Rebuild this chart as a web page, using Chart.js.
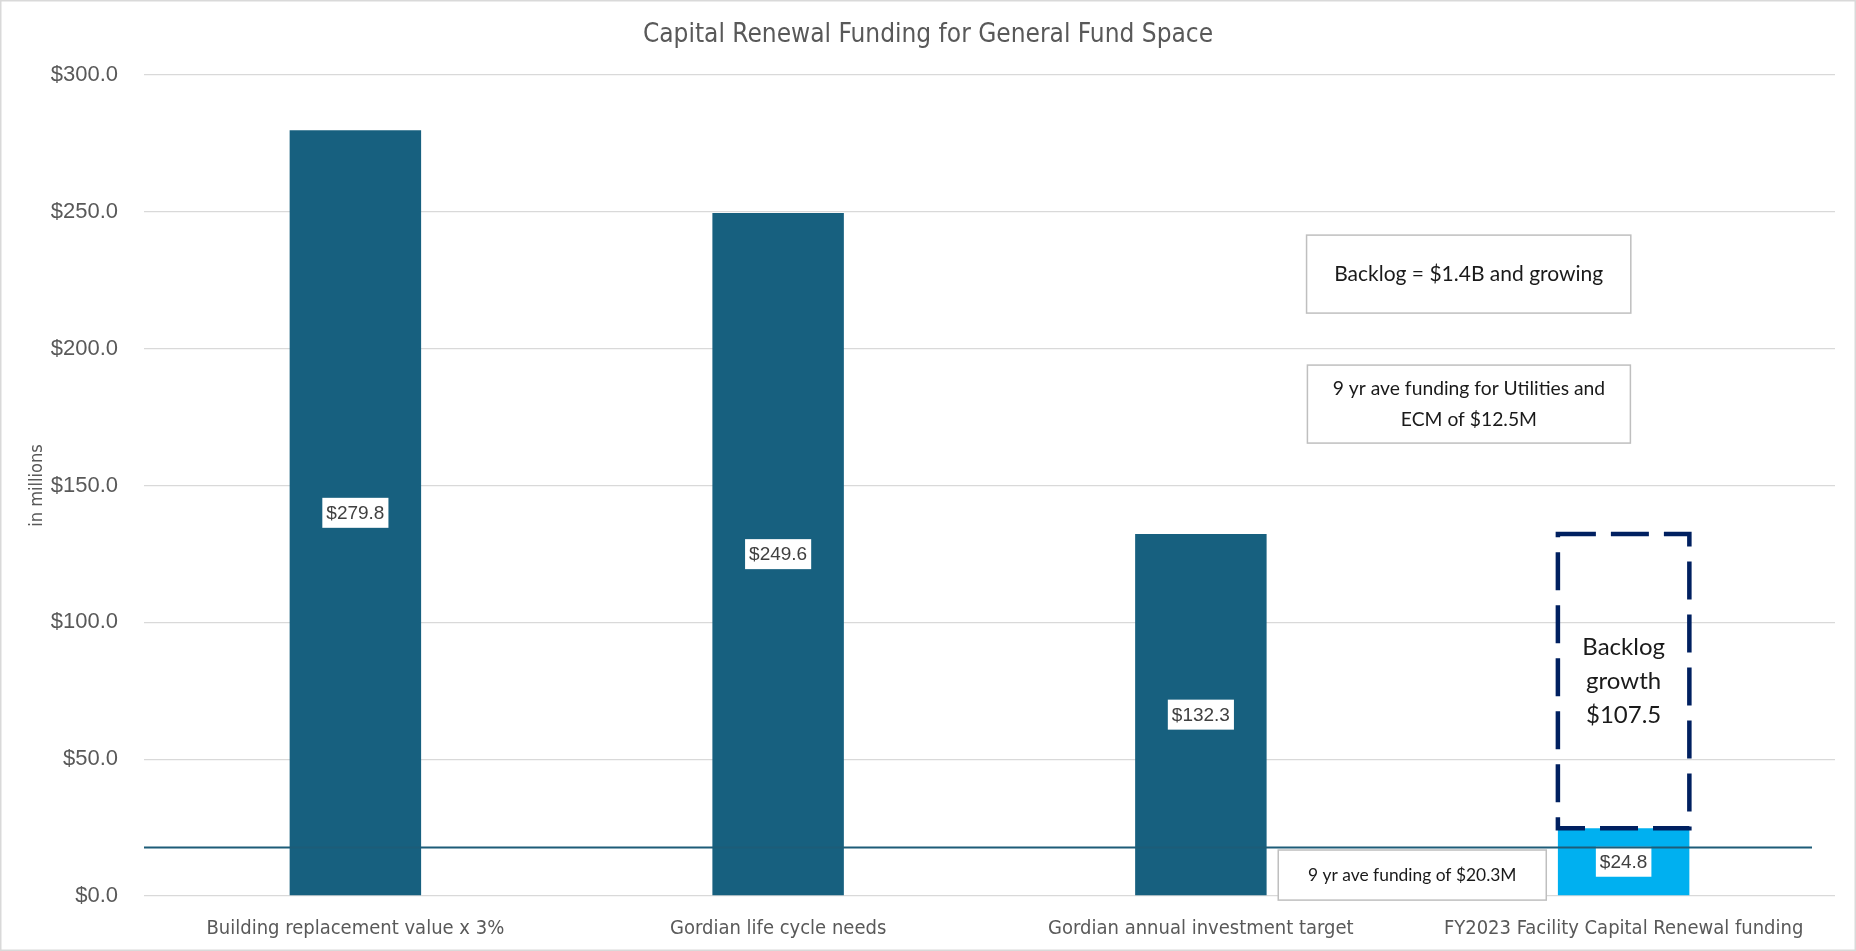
<!DOCTYPE html>
<html><head><meta charset="utf-8">
<script src="https://cdn.jsdelivr.net/npm/chart.js@4.4.1/dist/chart.umd.min.js"></script>
<style>html,body{margin:0;padding:0;background:#fff;overflow:hidden}#wrap{width:1856px;height:951px;position:relative}</style>
</head><body><div id="wrap"><canvas id="c"></canvas></div>
<script>
// ---- data ----
const categories = ['Building replacement value x 3%', 'Gordian life cycle needs', 'Gordian annual investment target', 'FY2023 Facility Capital Renewal funding'];
const fundingValues = [279.8, 249.6, 132.3, 24.8];
const backlogGrowth = [null, null, null, 107.5];
const averageFundingLevel = [17.7];
const yTickValues = [0, 50, 100, 150, 200, 250, 300];
const chartTitle = 'Capital Renewal Funding for General Fund Space';
const yAxisTitle = 'in millions';
const noteTexts = [['Backlog = $1.4B and growing'], ['9 yr ave funding for Utilities and', 'ECM of $12.5M'], ['9 yr ave funding of $20.3M']];
const backlogText = ['Backlog', 'growth', '$107.5'];

// ---- styles / placement ----
const darkBlue = '#17607F';
const lightBlue = '#00B0F0';
const barColors = [darkBlue, darkBlue, darkBlue, lightBlue];
const narrowFont = '"Liberation Sans Narrow", "DejaVu Sans Condensed", Roboto, sans-serif';
const boxFont = 'Lato, "Noto Sans", sans-serif';
const noteLayout = [
  {x0: 2.25, x1: 3.017, y0: 241.5, y1: 213.0, size: 21, lh: 30},
  {x0: 2.252, x1: 3.016, y0: 194.0, y1: 165.5, size: 19.3, lh: 31},
  {x0: 2.183, x1: 2.817, y0: 16.8, y1: -1.5, size: 17.4, lh: 24}
];

const decor = {
  id: 'decor',
  beforeDraw(chart) {
    const {ctx, width, height} = chart;
    ctx.save();
    ctx.fillStyle = '#fff'; ctx.fillRect(0, 0, width, height);
    ctx.strokeStyle = '#D9D9D9'; ctx.lineWidth = 1.5;
    ctx.strokeRect(0.75, 0.75, width - 1.5, height - 1.5);
    ctx.restore();
  },
  afterDatasetsDraw(chart) {
    const {ctx, chartArea, scales: {x, y}} = chart;
    ctx.save();
    // data labels
    ctx.font = '19px "Liberation Sans", Arial, sans-serif';
    ctx.textAlign = 'center'; ctx.textBaseline = 'middle';
    chart.getDatasetMeta(0).data.forEach((el, i) => {
      const p = el.getProps(['x', 'y', 'base'], true);
      const cy = (p.y + p.base) / 2;
      const txt = '$' + fundingValues[i].toFixed(1);
      const w = ctx.measureText(txt).width + 8;
      ctx.fillStyle = '#fff';
      ctx.fillRect(p.x - w / 2, cy - 15, w, 30);
      ctx.fillStyle = '#404040';
      ctx.fillText(txt, p.x, cy + 1);
    });
    // average funding line
    const ly = y.getPixelForValue(averageFundingLevel[0]);
    ctx.strokeStyle = '#1D5C78'; ctx.lineWidth = 2;
    ctx.beginPath(); ctx.moveTo(chartArea.left, ly); ctx.lineTo(chartArea.right - 23, ly); ctx.stroke();
    // dashed backlog box
    const el = chart.getDatasetMeta(1).data[3];
    const p = el.getProps(['x', 'y', 'base', 'width'], true);
    const l = p.x - p.width / 2, r = p.x + p.width / 2;
    ctx.strokeStyle = '#002060'; ctx.lineWidth = 4.5; ctx.setLineDash([38, 15]);
    ctx.beginPath(); ctx.moveTo(l, p.y); ctx.lineTo(r, p.y); ctx.lineTo(r, p.base); ctx.lineTo(l, p.base); ctx.closePath(); ctx.stroke();
    ctx.setLineDash([]);
    ctx.fillStyle = '#1a1a1a'; ctx.font = '24px ' + boxFont;
    const cy = (p.y + p.base) / 2;
    backlogText.forEach((t, i) => ctx.fillText(t, p.x, cy + (i - 1) * 34));
    // note boxes
    noteLayout.forEach((n, i) => {
      const bx0 = x.getPixelForValue(n.x0), bx1 = x.getPixelForValue(n.x1);
      const by0 = y.getPixelForValue(n.y0), by1 = y.getPixelForValue(n.y1);
      ctx.fillStyle = '#fff'; ctx.fillRect(bx0, by0, bx1 - bx0, by1 - by0);
      ctx.strokeStyle = '#BFBFBF'; ctx.lineWidth = 1.5; ctx.strokeRect(bx0, by0, bx1 - bx0, by1 - by0);
      ctx.fillStyle = '#1a1a1a'; ctx.font = n.size + 'px ' + boxFont;
      const lines = noteTexts[i];
      const mid = (by0 + by1) / 2;
      lines.forEach((t, k) => ctx.fillText(t, (bx0 + bx1) / 2, mid + (k - (lines.length - 1) / 2) * n.lh));
    });
    ctx.restore();
  }
};

new Chart(document.getElementById('c'), {
  type: 'bar',
  data: {
    labels: categories,
    datasets: [
      {data: fundingValues, backgroundColor: barColors, borderWidth: 0, barPercentage: 0.311, categoryPercentage: 1},
      {data: backlogGrowth, backgroundColor: 'rgba(0,0,0,0)', borderWidth: 0, barPercentage: 0.311, categoryPercentage: 1}
    ]
  },
  options: {
    responsive: true, maintainAspectRatio: false, animation: false,
    layout: {padding: {left: 21, right: 21, top: 0, bottom: 0}},
    plugins: {
      legend: {display: false}, tooltip: {enabled: false},
      title: {display: true, text: chartTitle, color: '#595959', font: {family: narrowFont, size: 26, weight: 'normal'}, padding: {top: 19.8, bottom: 24}}
    },
    scales: {
      x: {
        stacked: true,
        grid: {display: false}, border: {display: false},
        ticks: {color: '#595959', font: {family: narrowFont, size: 20}, padding: 13, maxRotation: 0},
        afterFit(s) { s.height = 55; }
      },
      y: {
        stacked: true, min: 0, max: 300,
        afterBuildTicks(s) { s.ticks = yTickValues.map(v => ({value: v})); },
        grid: {color: '#D9D9D9', lineWidth: 1.3, drawTicks: false}, border: {display: false},
        ticks: {color: '#595959', font: {family: '"Liberation Sans", Arial, sans-serif', size: 22}, padding: 26, callback: v => '$' + Number(v).toFixed(1)},
        title: {display: true, text: yAxisTitle, color: '#595959', font: {family: narrowFont, size: 18}, padding: {top: 6, bottom: 0}},
        afterFit(s) { s.width = 123; }
      }
    }
  },
  plugins: [decor]
});
</script></body></html>
